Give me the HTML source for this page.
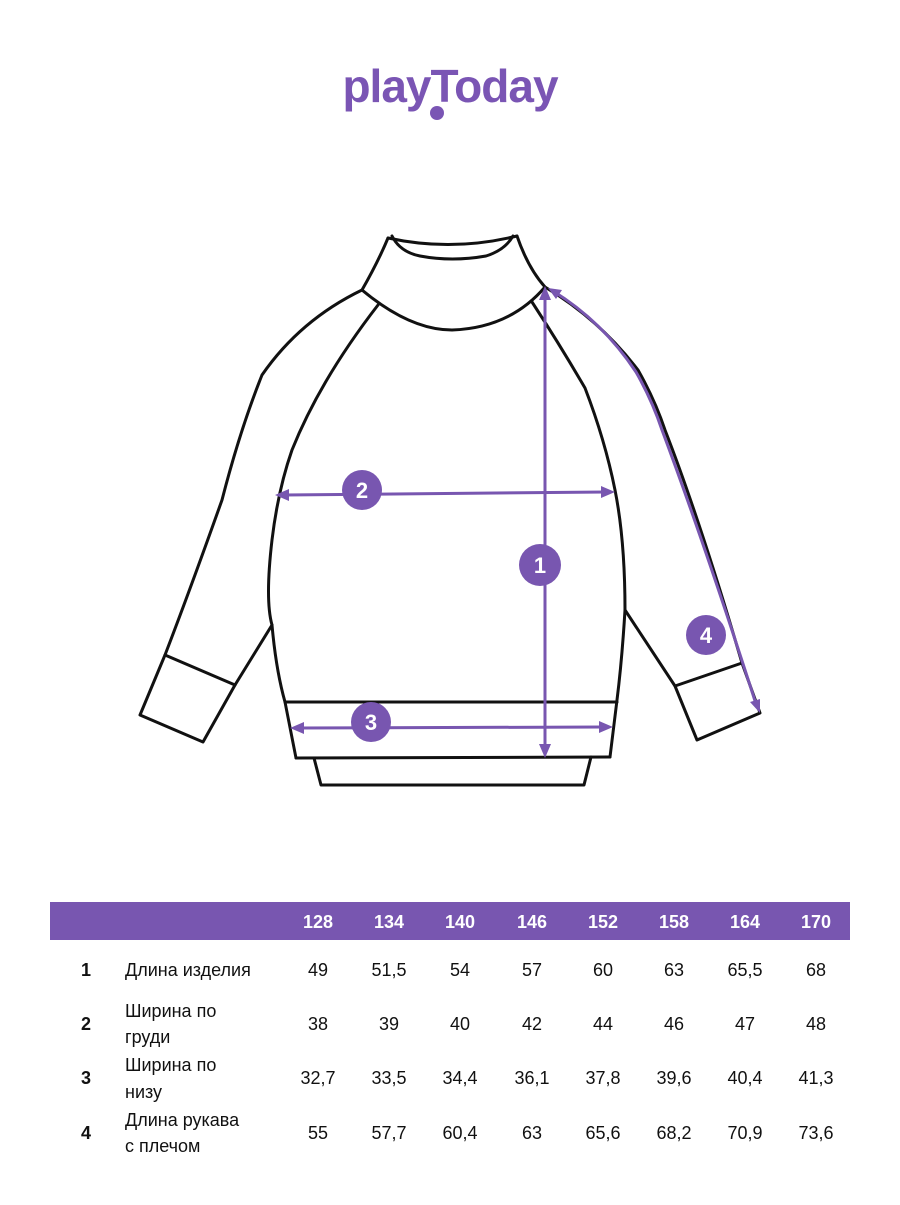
<!DOCTYPE html>
<html><head><meta charset="utf-8"><style>
body{margin:0;background:#fff;width:900px;height:1200px;overflow:hidden;font-family:"Liberation Sans","DejaVu Sans",sans-serif}
</style></head><body>
<svg width="900" height="1200" viewBox="0 0 900 1200" xmlns="http://www.w3.org/2000/svg">
<text x="450" y="102" text-anchor="middle" font-family="Liberation Sans, sans-serif" font-weight="bold" font-size="46" fill="#7a55b4" letter-spacing="-1">playToday</text>
<circle cx="437" cy="113" r="7" fill="#7a55b4"/>
<g fill="none" stroke="#111" stroke-width="3" stroke-linejoin="round" stroke-linecap="round">
<path d="M388,238 Q452,252 517,236"/>
<path d="M392,236 Q400,252 420,256 Q452,262 486,256 Q505,250 513,236"/>
<path d="M388,238 Q378,262 362,290 Q410,330 452,330 Q510,328 545,287 Q528,268 517,236"/>
<path d="M362,290 Q300,320 262,375 Q240,430 222,500 Q190,590 165,655 L140,715 L203,742 L235,685 L272,625"/>
<path d="M165,655 L235,685"/>
<path d="M378,305 Q320,380 292,450 Q278,490 272,540 Q265,600 272,625 Q276,670 285,702 L296,758"/>
<path d="M545,287 Q600,320 638,370 Q655,400 665,430 Q700,520 742,663 L760,713 L697,740 L675,686 L625,610"/>
<path d="M675,686 L742,663"/>
<path d="M532,302 Q560,345 585,388 Q605,440 615,490 Q625,540 625,610 Q622,660 617,700 L610,757"/>
<path d="M285,702 L617,702"/>
<path d="M296,758 L610,757"/>
<path d="M314,758 L321,785 L584,785 L591,757"/>
</g>
<g stroke="#7856b0" stroke-width="3" fill="#7856b0">
<line x1="545" y1="296" x2="545" y2="748"/>
<path d="M545,286 l-6,14 h12z M545,758 l-6,-14 h12z" stroke="none"/>
<line x1="284" y1="495" x2="606" y2="492"/>
<path d="M275,495 l14,-6 v12z M615,492 l-14,-6 v12z" stroke="none"/>
<line x1="299" y1="728" x2="604" y2="727"/>
<path d="M290,728 l14,-6 v12z M613,727 l-14,-6 v12z" stroke="none"/>
<path d="M553,291 Q603,322 636,372 Q652,400 662,430 Q705,545 756,704" fill="none"/>
<path d="M548,288 l14,2 l-6,9z M760,713 l-10,-11 l10,-3z" stroke="none"/>
</g>
<g fill="#7856b0">
<circle cx="540" cy="565" r="21"/><circle cx="362" cy="490" r="20"/><circle cx="371" cy="722" r="20"/><circle cx="706" cy="635" r="20"/>
</g>
<g fill="#fff" font-weight="bold" font-size="22" text-anchor="middle">
<text x="540" y="573">1</text><text x="362" y="498">2</text><text x="371" y="730">3</text><text x="706" y="643">4</text>
</g>
<rect x="50" y="902" width="800" height="38" fill="#7856b0"/>
<g fill="#fff" font-weight="bold" font-size="18" text-anchor="middle">
<text x="318" y="928">128</text><text x="389" y="928">134</text><text x="460" y="928">140</text><text x="532" y="928">146</text><text x="603" y="928">152</text><text x="674" y="928">158</text><text x="745" y="928">164</text><text x="816" y="928">170</text>
</g>
<g fill="#111" font-size="18">
<g font-weight="bold" text-anchor="middle"><text x="86" y="976">1</text><text x="86" y="1030">2</text><text x="86" y="1084">3</text><text x="86" y="1139">4</text></g>
<text x="125" y="976">Длина изделия</text>
<text x="125" y="1017">Ширина по</text><text x="125" y="1043">груди</text>
<text x="125" y="1071">Ширина по</text><text x="125" y="1098">низу</text>
<text x="125" y="1126">Длина рукава</text><text x="125" y="1152">с плечом</text>
<g text-anchor="middle">
<text x="318" y="976">49</text><text x="389" y="976">51,5</text><text x="460" y="976">54</text><text x="532" y="976">57</text><text x="603" y="976">60</text><text x="674" y="976">63</text><text x="745" y="976">65,5</text><text x="816" y="976">68</text>
<text x="318" y="1030">38</text><text x="389" y="1030">39</text><text x="460" y="1030">40</text><text x="532" y="1030">42</text><text x="603" y="1030">44</text><text x="674" y="1030">46</text><text x="745" y="1030">47</text><text x="816" y="1030">48</text>
<text x="318" y="1084">32,7</text><text x="389" y="1084">33,5</text><text x="460" y="1084">34,4</text><text x="532" y="1084">36,1</text><text x="603" y="1084">37,8</text><text x="674" y="1084">39,6</text><text x="745" y="1084">40,4</text><text x="816" y="1084">41,3</text>
<text x="318" y="1139">55</text><text x="389" y="1139">57,7</text><text x="460" y="1139">60,4</text><text x="532" y="1139">63</text><text x="603" y="1139">65,6</text><text x="674" y="1139">68,2</text><text x="745" y="1139">70,9</text><text x="816" y="1139">73,6</text>
</g>
</g>
</svg>
</body></html>
